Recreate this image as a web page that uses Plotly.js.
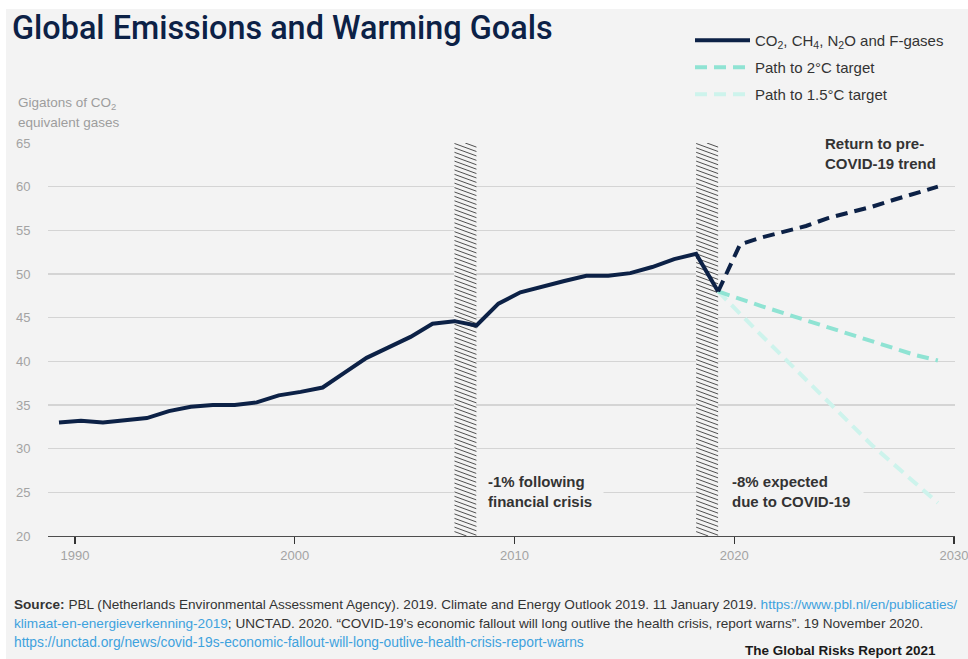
<!DOCTYPE html>
<html>
<head>
<meta charset="utf-8">
<script src="https://cdn.plot.ly/plotly-3.0.1.min.js"></script>
<style>
  html, body { margin: 0; padding: 0; background: #ffffff; }
  #chart { position: absolute; left: 6px; top: 9px; width: 962px; height: 650px; }
</style>
</head>
<body>
<div id="chart"></div>
<script>
// ---------- DATA ----------
const histYears = [1990,1991,1992,1993,1994,1995,1996,1997,1998,1999,2000,2001,2002,2003,2004,2005,2006,2007,2008,2009,2010,2011,2012,2013,2014,2015,2016,2017,2018,2019,2020];
const histEmissions = [33.0,33.2,33.0,33.3,33.5,34.3,34.8,35.0,35.0,35.3,36.1,36.5,37.0,38.7,40.4,41.6,42.8,44.3,44.6,44.1,46.6,47.9,48.6,49.2,49.8,49.8,50.1,50.8,51.7,52.3,48.0];

const projYears = [2020,2021,2022,2023,2024,2025,2026,2027,2028,2029,2030];
const preCovidTrend = [48.0,53.4,54.2,54.8,55.5,56.4,57.0,57.7,58.5,59.3,60.0];
const path2C = [48.0,47.1,46.3,45.5,44.7,43.9,43.1,42.3,41.4,40.7,40.1];
const path15C = [48.0,45.4,42.9,40.4,37.9,35.3,32.9,30.4,28.2,26.0,23.8];

const crisisStart = [2008, 2019];
const crisisEnd = [2009, 2020];
const crisisLabels = ["-1% following<br>financial crisis", "-8% expected<br>due to COVID-19"];

const xTickLabels = [1990, 2000, 2010, 2020, 2030];
const yTicks = [20, 25, 30, 35, 40, 45, 50, 55, 60, 65];

const seriesNames = ["CO<sub>2</sub>, CH<sub>4</sub>, N<sub>2</sub>O and F-gases", "Path to 2°C target", "Path to 1.5°C target"];

// ---------- STYLE ----------
const FONT = "Liberation Sans, Arial, Helvetica, sans-serif";
const TITLE_FONT = "Roboto, Liberation Sans, Arial, sans-serif";
const BG = "#f3f3f3";
const NAVY = "#0c2146";
const AQUA = "#8fe3d3";
const PALE = "#cdf3ec";
const W = 962, H = 650;
const M = {l: 42, r: 13, t: 134, b: 123, autoexpand: false};
const PW = W - M.l - M.r, PH = H - M.t - M.b;
const yMin = 20, yMax = 65;
const labelShift = 0.73;          // tick labels sit slightly right of yearly points
const xRange = [1989.5, 2030.78];

function px(x) { return (x - M.l) / PW; }
function py(y) { return 1 - (y - M.t) / PH; }

// ---------- HATCH ----------
const hatchDrop = 0.92;   // y-units fall across one bar
const hatchStep = 0.505;  // y-units between lines
function hatchTrace(x0, x1) {
  const xs = [], ys = [];
  for (let c = yMin; c <= yMax + hatchDrop; c += hatchStep) {
    const tS = Math.max(0, (c - yMax) / hatchDrop);
    const tE = Math.min(1, (c - yMin) / hatchDrop);
    if (tE <= tS) continue;
    xs.push(x0 + tS * (x1 - x0), x0 + tE * (x1 - x0), null);
    ys.push(c - hatchDrop * tS, c - hatchDrop * tE, null);
  }
  return {x: xs, y: ys, type: 'scatter', mode: 'lines', line: {color: '#505050', width: 1},
          hoverinfo: 'skip', showlegend: false, connectgaps: false, cliponaxis: true};
}

const traces = [];
traces.push({
  type: 'bar',
  x: crisisStart.map((s, i) => (s + crisisEnd[i]) / 2),
  y: crisisStart.map(() => yMax - yMin),
  base: crisisStart.map(() => yMin),
  width: crisisStart.map((s, i) => crisisEnd[i] - s),
  marker: {color: BG, line: {width: 0}},
  hoverinfo: 'skip', showlegend: false
});
crisisStart.forEach((s, i) => traces.push(hatchTrace(s, crisisEnd[i])));

traces.push({
  x: projYears, y: path15C, type: 'scatter', mode: 'lines', name: seriesNames[2],
  line: {color: PALE, width: 4, dash: '12px,7px'}, legend: 'legend3'
});
traces.push({
  x: projYears, y: path2C, type: 'scatter', mode: 'lines', name: seriesNames[1],
  line: {color: AQUA, width: 4, dash: '12px,7px'}, legend: 'legend2'
});
traces.push({
  x: projYears, y: preCovidTrend, type: 'scatter', mode: 'lines', name: 'Return to pre-COVID-19 trend',
  line: {color: NAVY, width: 4, dash: '12px,7px'}, showlegend: false
});
traces.push({
  x: histYears, y: histEmissions, type: 'scatter', mode: 'lines', name: seriesNames[0],
  line: {color: NAVY, width: 4}, legend: 'legend'
});

function legendAt(rowY) {
  return {
    xref: 'container', yref: 'container', x: 684 / W, y: 1 - (rowY - 12) / H,
    xanchor: 'left', yanchor: 'top', bgcolor: 'rgba(0,0,0,0)', borderwidth: 0,
    font: {family: FONT, size: 15, color: '#333333'}, itemwidth: 55
  };
}

const annFont = {family: FONT, size: 15, color: '#333333'};
const annotations = [
  {xref: 'paper', yref: 'paper', x: px(10), y: py(94), xanchor: 'left', yanchor: 'middle',
   text: 'Gigatons of CO<sub>2</sub>', showarrow: false, font: {family: FONT, size: 13.5, color: '#9d9d9d'}},
  {xref: 'paper', yref: 'paper', x: px(10), y: py(113), xanchor: 'left', yanchor: 'middle',
   text: 'equivalent gases', showarrow: false, font: {family: FONT, size: 13.5, color: '#9d9d9d'}},
  {xref: 'paper', yref: 'paper', x: px(809), y: py(144), xanchor: 'left', yanchor: 'middle', align: 'left',
   text: '<b>Return to pre-<br>COVID-19 trend</b>', showarrow: false, bgcolor: BG, borderpad: 9, font: annFont},
  {xref: 'x', yref: 'paper', x: crisisEnd[0], y: py(482.5), xanchor: 'left', yanchor: 'middle', align: 'left',
   text: '<b>' + crisisLabels[0] + '</b>', showarrow: false, bgcolor: BG, borderpad: 11, font: annFont},
  {xref: 'x', yref: 'paper', x: crisisEnd[1], y: py(482.5), xanchor: 'left', yanchor: 'middle', align: 'left',
   text: '<b>' + crisisLabels[1] + '</b>', showarrow: false, bgcolor: BG, borderpad: 13, font: annFont},
  {xref: 'paper', yref: 'paper', x: px(6), y: py(595), xanchor: 'left', yanchor: 'middle', align: 'left', showarrow: false,
   font: {family: FONT, size: 13.6, color: '#333333'},
   text: '<b>Source:</b> PBL (Netherlands Environmental Assessment Agency). 2019. Climate and Energy Outlook 2019. 11 January 2019. <span style="color:#3ea2de">https://www.pbl.nl/en/publicaties/</span>'},
  {xref: 'paper', yref: 'paper', x: px(6), y: py(614), xanchor: 'left', yanchor: 'middle', align: 'left', showarrow: false,
   font: {family: FONT, size: 13.6, color: '#333333'},
   text: '<span style="color:#3ea2de">klimaat-en-energieverkenning-2019</span>; UNCTAD. 2020. “COVID-19’s economic fallout will long outlive the health crisis, report warns”. 19 November 2020.'},
  {xref: 'paper', yref: 'paper', x: px(6), y: py(633), xanchor: 'left', yanchor: 'middle', align: 'left', showarrow: false,
   font: {family: FONT, size: 13.8, color: '#3ea2de'},
   text: 'https://unctad.org/news/covid-19s-economic-fallout-will-long-outlive-health-crisis-report-warns'},
  {xref: 'paper', yref: 'paper', x: px(932), y: py(641), xanchor: 'right', yanchor: 'middle', showarrow: false,
   font: {family: FONT, size: 13.5, color: '#1a1a1a'}, text: '<b>The Global Risks Report 2021</b>'}
];

const layout = {
  width: W, height: H,
  margin: M,
  paper_bgcolor: BG, plot_bgcolor: BG,
  font: {family: FONT},
  title: {text: 'Global Emissions and Warming Goals', xref: 'container', yref: 'container',
          x: 6 / W, xanchor: 'left', y: 1 - 19 / H, yanchor: 'middle',
          font: {family: TITLE_FONT, size: 32.4, weight: 500, color: NAVY}},
  showlegend: true,
  legend: legendAt(27),
  legend2: legendAt(54),
  legend3: legendAt(81),
  xaxis: {
    range: xRange, tickmode: 'array',
    tickvals: xTickLabels.map(v => v + labelShift), ticktext: xTickLabels.map(String),
    showgrid: false, zeroline: false, showline: true, linecolor: '#4d4d4d', linewidth: 1.3,
    ticks: 'outside', ticklen: 7, tickwidth: 1.3, tickcolor: '#333333', ticklabeloverflow: 'allow',
    tickfont: {family: FONT, size: 13, color: '#a3a3a3'}, fixedrange: true
  },
  yaxis: {
    range: [yMin, yMax], tickmode: 'array', tickvals: yTicks,
    showgrid: true, gridcolor: '#d4d4d4', gridwidth: 1.5, zeroline: false, showline: false,
    ticks: 'outside', ticklen: 14, tickcolor: 'rgba(0,0,0,0)',
    tickfont: {family: FONT, size: 13, color: '#a3a3a3'}, fixedrange: true
  },
  bargap: 0,
  annotations: annotations
};

Plotly.newPlot('chart', traces, layout, {displayModeBar: false, staticPlot: true});
</script>
</body>
</html>
